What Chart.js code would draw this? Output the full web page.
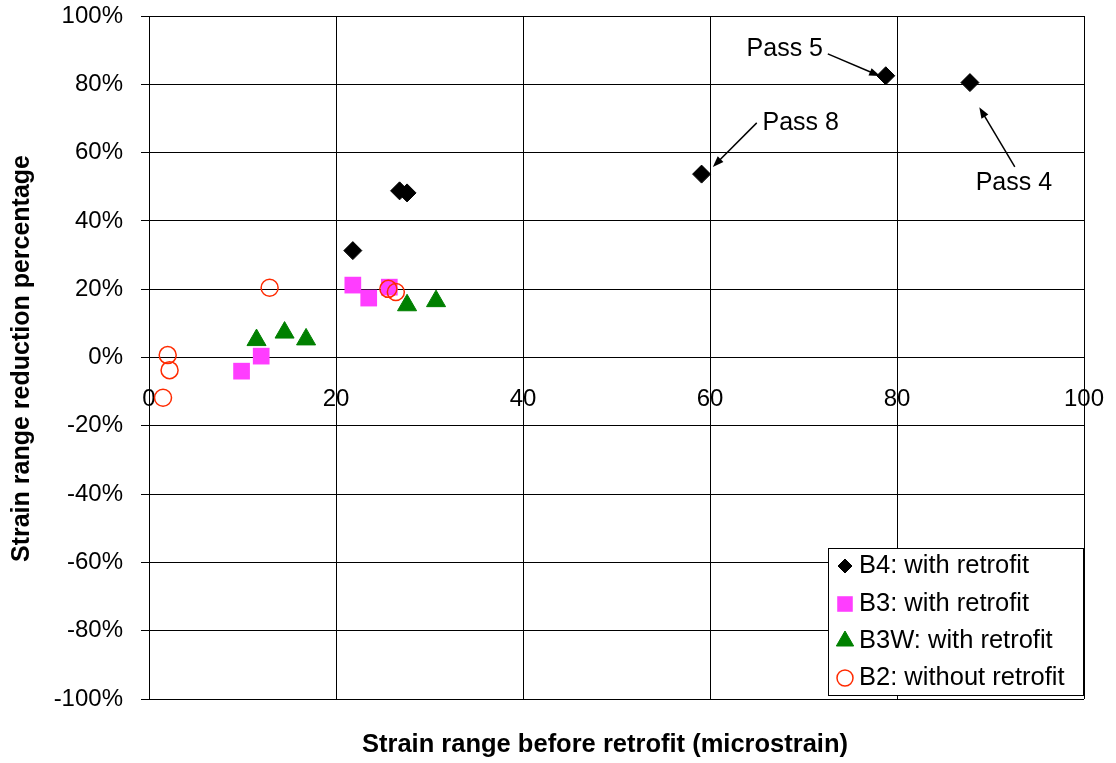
<!DOCTYPE html>
<html>
<head>
<meta charset="utf-8">
<script src="https://cdn.jsdelivr.net/npm/chart.js"></script>
<style>
  html, body { margin: 0; padding: 0; background: #fff; }
  #wrap { width: 1116px; height: 763px; }
</style>
</head>
<body>
<div id="wrap"><canvas id="ChartA" width="1116" height="763"></canvas></div>
<script>
// strain range before retrofit (microstrain) / reduction (%)
const b4X = [21.8, 26.8, 27.6, 59.1, 78.8, 87.8];
const b4Y = [31.3, 48.8, 48.2, 53.7, 82.5, 80.5];
const b3X = [9.9, 12.0, 21.8, 23.5, 25.7];
const b3Y = [-4.0, 0.4, 21.2, 17.4, 20.6];
const b3wX = [11.5, 14.5, 16.8, 27.6, 30.7];
const b3wY = [5.1, 7.3, 5.3, 15.3, 16.5];
const b2X = [1.5, 2.0, 2.2, 12.9, 25.6, 26.4];
const b2Y = [-11.8, 0.7, -3.7, 20.4, 20.1, 19.2];

const seriesNames = ['B4: with retrofit', 'B3: with retrofit', 'B3W: with retrofit', 'B2: without retrofit'];
const xTicks = [0, 20, 40, 60, 80, 100];
const yTicks = [-100, -80, -60, -40, -20, 0, 20, 40, 60, 80, 100];

const xTitle = 'Strain range before retrofit (microstrain)';
const yTitle = 'Strain range reduction percentage';

// callouts: label position and arrow, in data units
const notes = [
  { text: 'Pass 5', tx: 68.0, ty: 90.3, from: [72.6, 88.9], to: [78.2, 82.4] },
  { text: 'Pass 8', tx: 69.7, ty: 68.7, from: [65.0, 68.7], to: [60.3, 55.8] },
  { text: 'Pass 4', tx: 92.5, ty: 51.1, from: [92.6, 55.8], to: [88.8, 73.3] }
];

function pts(xs, ys) {
  return xs.map(function(x, i) { return { x: x, y: ys[i] }; });
}

const FONT = '"Liberation Sans", Arial, sans-serif';

const datasets = [
  { label: seriesNames[0], data: pts(b4X, b4Y), pointStyle: 'rectRot', pointRadius: 9,
    backgroundColor: '#000', borderColor: '#000', borderWidth: 1, order: 4 },
  { label: seriesNames[1], data: pts(b3X, b3Y), pointStyle: 'rect', pointRadius: 11.8,
    backgroundColor: '#ff3dff', borderColor: '#ff3dff', borderWidth: 0, order: 3 },
  { label: seriesNames[2], data: pts(b3wX, b3wY), pointStyle: 'triangle', pointRadius: 11,
    backgroundColor: '#008000', borderColor: '#008000', borderWidth: 1, order: 2 },
  { label: seriesNames[3], data: pts(b2X, b2Y), pointStyle: 'circle', pointRadius: 8.5,
    backgroundColor: 'rgba(0,0,0,0)', borderColor: '#ff2a00', borderWidth: 1.5, order: 1 }
];

const legendStyle = [
  { pointStyle: 'rectRot', radius: 7, backgroundColor: '#000', borderColor: '#000', borderWidth: 1 },
  { pointStyle: 'rect', radius: 11, backgroundColor: '#ff3dff', borderColor: '#ff3dff', borderWidth: 0 },
  { pointStyle: 'triangle', radius: 10, backgroundColor: '#008000', borderColor: '#008000', borderWidth: 1 },
  { pointStyle: 'circle', radius: 8, backgroundColor: 'rgba(0,0,0,0)', borderColor: '#ff2a00', borderWidth: 1.5 }
];

const extras = {
  id: 'extras',
  afterDraw: function(chart) {
    const ctx = chart.ctx;
    const xs = chart.scales.x, ys = chart.scales.y;
    const area = chart.chartArea;
    ctx.save();

    // callouts
    ctx.fillStyle = '#000';
    ctx.strokeStyle = '#000';
    ctx.font = '25px ' + FONT;
    ctx.textAlign = 'center';
    ctx.textBaseline = 'middle';
    notes.forEach(function(n) {
      ctx.fillText(n.text, xs.getPixelForValue(n.tx), ys.getPixelForValue(n.ty));
      const x1 = xs.getPixelForValue(n.from[0]), y1 = ys.getPixelForValue(n.from[1]);
      const x2 = xs.getPixelForValue(n.to[0]), y2 = ys.getPixelForValue(n.to[1]);
      const a = Math.atan2(y2 - y1, x2 - x1);
      ctx.lineWidth = 1.5;
      ctx.beginPath();
      ctx.moveTo(x1, y1);
      ctx.lineTo(x2 - 8 * Math.cos(a), y2 - 8 * Math.sin(a));
      ctx.stroke();
      ctx.beginPath();
      ctx.moveTo(x2, y2);
      ctx.lineTo(x2 - 11 * Math.cos(a) + 4 * Math.sin(a), y2 - 11 * Math.sin(a) - 4 * Math.cos(a));
      ctx.lineTo(x2 - 11 * Math.cos(a) - 4 * Math.sin(a), y2 - 11 * Math.sin(a) + 4 * Math.cos(a));
      ctx.closePath();
      ctx.fill();
    });

    // legend box
    const lx = 828, ly = 548, lw = 255, lh = 147;
    ctx.fillStyle = '#fff';
    ctx.fillRect(lx, ly, lw, lh);
    ctx.strokeStyle = '#000';
    ctx.lineWidth = 1;
    ctx.strokeRect(lx + 0.5, ly + 0.5, lw, lh);
    const rows = [566, 604, 641, 678];
    ctx.font = '25.5px ' + FONT;
    ctx.textAlign = 'left';
    ctx.textBaseline = 'middle';
    seriesNames.forEach(function(name, i) {
      const st = legendStyle[i];
      ctx.fillStyle = st.backgroundColor;
      ctx.strokeStyle = st.borderColor;
      ctx.lineWidth = st.borderWidth;
      Chart.helpers.drawPoint(ctx, { pointStyle: st.pointStyle, radius: st.radius, rotation: 0, borderWidth: st.borderWidth }, 845, rows[i]);
      ctx.fillStyle = '#000';
      ctx.fillText(name, 859, rows[i]);
    });

    // axis titles
    ctx.fillStyle = '#000';
    ctx.textAlign = 'center';
    ctx.textBaseline = 'middle';
    ctx.font = 'bold 25.5px ' + FONT;
    ctx.fillText(xTitle, 605, 745);
    ctx.font = 'bold 25px ' + FONT;
    ctx.translate(22, (area.top + area.bottom) / 2 + 1);
    ctx.rotate(-Math.PI / 2);
    ctx.fillText(yTitle, 0, 0);
    ctx.restore();
  }
};

function noPad(s) {
  s.paddingTop = 0; s.paddingBottom = 0; s.paddingLeft = 0; s.paddingRight = 0;
}

var ctx = document.getElementById('ChartA').getContext('2d');
var myChart = new Chart(ctx, {
  type: 'scatter',
  data: { datasets: datasets },
  options: {
    responsive: false,
    animation: false,
    events: [],
    layout: { padding: { top: 16, right: 32, bottom: 64, left: 0 } },
    plugins: { legend: { display: false }, tooltip: { enabled: false } },
    scales: {
      x: {
        type: 'linear',
        position: { y: 0 },
        min: 0, max: 100,
        afterBuildTicks: function(s) { s.ticks = xTicks.map(function(v) { return { value: v }; }); },
        afterFit: noPad,
        grid: { color: '#000', lineWidth: 1, drawTicks: false },
        border: { color: '#000', width: 1 },
        ticks: { color: '#000', padding: 27, maxRotation: 0, font: { family: FONT, size: 24 } }
      },
      y: {
        type: 'linear',
        position: 'left',
        min: -100, max: 100,
        afterBuildTicks: function(s) { s.ticks = yTicks.map(function(v) { return { value: v }; }); },
        afterFit: function(s) { s.width = 149; noPad(s); },
        grid: { color: '#000', lineWidth: 1, drawTicks: true, tickLength: 8 },
        border: { color: '#000', width: 1 },
        ticks: { color: '#000', padding: 18, font: { family: FONT, size: 24 },
          callback: function(v) { return v + '%'; } }
      }
    }
  },
  plugins: [extras]
});
</script>
</body>
</html>
